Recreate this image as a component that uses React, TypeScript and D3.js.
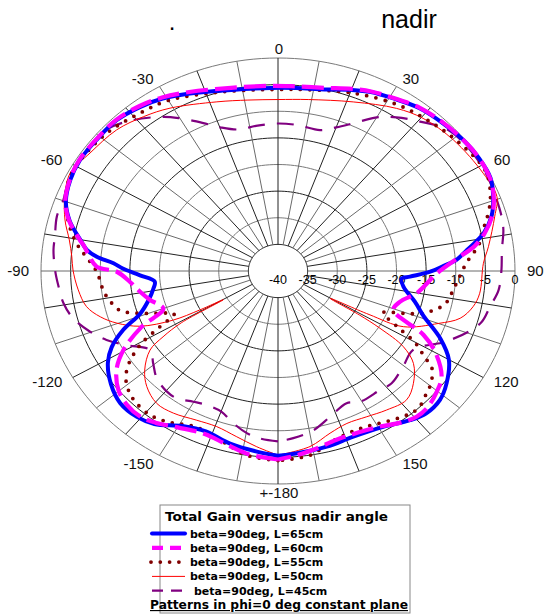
import React from "react";
import * as d3 from "d3";

// ---------- data (angle in degrees from nadir, total gain in dB) ----------
const radialTicks = [-35, -30, -25, -20, -15, -10, -5, 0];
const radialLabels = ["-40", "-35", "-30", "-25", "-20", "-15", "-10", "-5", "0"];
const angleLabelValues = [0, 30, 60, 90, 120, 150, 180, -150, -120, -90, -60, -30];
const angleLabelText = ["0", "30", "60", "90", "120", "150", "+-180", "-150", "-120", "-90", "-60", "-30"];
const spokeAngles = d3.range(-180, 180, 10);

const legendNames = [
  "beta=90deg, L=65cm",
  "beta=90deg, L=60cm",
  "beta=90deg, L=55cm",
  "beta=90deg, L=50cm",
  "beta=90deg, L=45cm",
];

const gainL65: [number, number][] = [
  [-180, -5.3], [-174, -5.9], [-166, -6.6], [-158, -7.5], [-151, -6.7], [-144, -4.5], [-139, -3.7],
  [-133, -3.6], [-127, -4.7], [-121, -6.5], [-117, -8.5], [-113, -11.6], [-109, -15.4], [-104, -17.5],
  [-99, -18.7], [-95.5, -19.1], [-92, -16.7], [-89, -13.8], [-87, -12.2], [-85, -9.3], [-83, -7.5],
  [-80, -6.1], [-75, -3.6], [-70, -1.9], [-64, -1.0], [-58, -0.6], [-51, -0.7], [-44, -0.7],
  [-37, -1.4], [-31, -2.2], [-24, -3.5], [-13, -5.1], [-2, -5.6], [5, -5.5], [13, -5.0], [20, -3.8],
  [25, -2.9], [31, -2.2], [38, -1.2], [45, -0.7], [52, -0.2], [58, 0], [64, -0.1], [69, -1.1],
  [74, -2.5], [78.5, -4.6], [83, -7.9], [86, -9.8], [88, -12], [90.3, -14.3], [92.7, -17.7],
  [94, -19.1], [98, -18.6], [104, -16.2], [109, -14.0], [115, -9.7], [120, -6.7], [126.5, -4.6],
  [131.5, -3.5], [137, -3.4], [141.5, -4.2], [149, -5.8], [158, -6.4], [166, -6.0], [175, -5.6],
  [180, -5.3],
];

const gainL60: [number, number][] = [
  [-180, -4.6], [-172, -5.2], [-165, -6.3], [-158, -7.0], [-150, -6.1], [-144, -4.8], [-139.6, -4.1],
  [-134.6, -4.2], [-129.7, -5.0], [-124.3, -7.0], [-119.6, -10], [-114.5, -14.7], [-110, -19.4],
  [-104, -17.7], [-99.5, -16.4], [-94.6, -14.9], [-90.3, -12.8], [-88.5, -9.4], [-85, -8.0],
  [-82, -7.0], [-80, -6.0], [-75, -3.5], [-70, -1.8], [-64, -0.9], [-58, -0.5], [-51, -0.6],
  [-44, -0.6], [-37, -1.2], [-31, -2.0], [-24, -3.2], [-13, -4.7], [-2, -5.2], [5, -5.2], [13, -4.7],
  [20, -3.6], [25, -2.8], [31, -2.1], [38, -1.1], [45, -0.6], [52, -0.2], [58, 0], [64, -0.2],
  [69, -1.0], [74, -2.4], [78.5, -4.4], [82, -6.5], [85, -9.2], [91, -13.2], [100, -16.2],
  [105.6, -18.6], [110.6, -19.2], [116, -12.7], [120, -9.3], [125.7, -6.0], [130.2, -4.9],
  [135.8, -4.0], [139.5, -4.0], [144, -4.8], [149.5, -6.1], [156, -6.8], [162.7, -6.8], [170, -5.9],
  [175, -5.2], [180, -4.6],
];

const gainL55: [number, number][] = [
  [-180, -4.4], [-171.3, -5.0], [-165, -6.4], [-159.4, -7.4], [-153.4, -7.5], [-147.3, -6.2],
  [-141.4, -5.4], [-135.5, -5.6], [-132.3, -6.1], [-129.3, -6.9], [-126.1, -8.4], [-123.3, -10.5],
  [-120.5, -13.3], [-117.7, -17.5], [-114.7, -20.7], [-111.2, -18.0], [-108.5, -15], [-105.7, -12.4],
  [-102.5, -11.4], [-99.5, -10.7], [-96.3, -10.2], [-90.2, -9.4], [-84.2, -7.0], [-81.3, -5.6],
  [-75.3, -3.4], [-69.1, -1.7], [-63.4, -0.7], [-57.4, -0.7], [-48.2, -1.2], [-39.2, -2.2],
  [-30, -3.0], [-18, -4.8], [-8, -5.7], [0, -5.9], [8, -5.6], [21.3, -4.2], [33.1, -2.8],
  [42.4, -2.0], [51.4, -1.1], [61.5, -0.25], [66.1, -0.9], [70.4, -2.0], [75.2, -3.7], [78, -4.8],
  [81.6, -5.7], [87.4, -8.2], [96.2, -10.1], [99.4, -10.6], [102.4, -11.1], [105.1, -12.4],
  [108.3, -14.6], [110.6, -17.4], [113.8, -20.6], [117.3, -17.5], [120.2, -13.2], [123.2, -10.4],
  [125, -8.3], [129.1, -6.7], [132.5, -6.0], [137.4, -5.0], [141.2, -5.3], [147, -6.3], [153, -7.2],
  [158.7, -7.3], [164.8, -6.6], [171, -5.0], [180, -4.4],
];

const gainL50: [number, number][] = [
  [-180, -5.4], [-173.8, -6.8], [-167.4, -8.1], [-160.5, -9.0], [-153.9, -8.8], [-146.5, -8.0],
  [-140.5, -7.8], [-134.4, -9.0], [-129.6, -10.8], [-124.5, -13.8], [-122.5, -17.0], [-120.8, -21],
  [-120.3, -29.3], [-119, -24.9], [-117.5, -20], [-114, -14.5], [-109.8, -11.1], [-106, -8.8],
  [-101.7, -7.0], [-96, -6.1], [-89.7, -5.4], [-85.6, -5.1], [-80.6, -4.3], [-75.1, -2.8],
  [-68.8, -1.4], [-62.4, -0.4], [-55.1, -1.3], [-45.8, -2.0], [-38, -3.2], [-30.8, -4.4],
  [-18, -6.6], [-9, -7.5], [0, -7.8], [9, -7.4], [21.8, -5.8], [33.2, -3.5], [40.5, -2.3],
  [50.3, -1.5], [62.1, -0.8], [69.3, -0.5], [74.3, -2.0], [82.7, -4.2], [87.6, -5.3], [97, -5.7],
  [101.5, -6.4], [106.1, -8.0], [110, -11.2], [116.3, -16.4], [118, -22.6], [120.3, -29.8],
  [121, -24], [122, -19.7], [123.9, -14.5], [127.2, -11.3], [132.7, -8.9], [138.1, -7.5],
  [144.9, -8.1], [151.3, -8.8], [157.9, -9.1], [163.9, -8.3], [170.7, -6.6], [180, -5.4],
];

const gainL45: [number, number][] = [
  [-180, -8.0], [-174.5, -8.4], [-170.2, -9.1], [-164.6, -10.6], [-160.2, -11.9], [-154.4, -12.1],
  [-149.8, -11.6], [-144.4, -10.6], [-140.4, -10.6], [-134.5, -11.3], [-129.5, -12.7],
  [-124.5, -13.8], [-118.6, -10.9], [-114.1, -8.3], [-109.8, -6.3], [-104.4, -4.3], [-99.5, -3.3],
  [-94, -2.8], [-90, -2.4], [-84, -1.9], [-80.3, -1.8], [-74.7, -1.3], [-69.8, -1.4], [-66.1, -1.0],
  [-60, -0.5], [-52, -0.5], [-47, -0.8], [-40.7, -2.6], [-33.7, -5.2], [-30, -6.9], [-24.4, -9.5],
  [-19.9, -11.3], [-14.1, -12.6], [-7.8, -12.5], [0, -12.3], [7, -12.4], [15, -12.6], [20, -11.3],
  [24.6, -9.5], [30, -6.7], [34.7, -4.9], [40.5, -3.1], [47, -1.0], [55, -0.4], [62, -0.4],
  [67, -0.6], [74.9, -0.9], [78.6, -1.2], [84, -2.0], [90, -2.3], [95.5, -2.6], [100.6, -3.6],
  [105.5, -4.3], [109.5, -5.9], [115.2, -8.8], [123, -12.8], [130.3, -12.3], [137.7, -11.5],
  [142.4, -11.8], [150.6, -11.8], [155, -12.6], [162, -11.3], [168.7, -9.5], [175.3, -8.5],
  [180, -8.0],
];

const seriesData = [gainL65, gainL60, gainL55, gainL50, gainL45];

// ---------- styles ----------
const seriesStyle = [
  { color: "#0000ff", width: 4, dash: "", cap: "round" },
  { color: "#ff00ff", width: 4.2, dash: "22 7", cap: "butt" },
  { color: "#800000", width: 3.8, dash: "0 9.5", cap: "round" },
  { color: "#ff0000", width: 1, dash: "", cap: "butt" },
  { color: "#800080", width: 2.2, dash: "17 12", cap: "butt" },
];
const legendDash = ["", "11 7", "0 9.3", "", "11 8"];

const W = 546;
const H = 616;
const CX = 278;
const CY = 271;
const RX = 237;
const RY = 213;

const rScale = d3.scaleLinear().domain([-40, 0]).range([0, 1]);
const rad = (deg: number) => (deg * Math.PI) / 180;
const px = (deg: number, g: number) => CX + rScale(g) * RX * Math.sin(rad(deg));
const py = (deg: number, g: number) => CY - rScale(g) * RY * Math.cos(rad(deg));

const ringPath = (g: number) => {
  const pts = d3.range(0, 361, 2).map((a) => [px(a, g), py(a, g)] as [number, number]);
  return d3.line()(pts) || "";
};

const curve = d3
  .line<[number, number]>()
  .x((d) => px(d[0], d[1]))
  .y((d) => py(d[0], d[1]))
  .curve(d3.curveCatmullRom.alpha(0.5));

export default function App() {
  const font = "'Liberation Sans', Arial, sans-serif";
  const legFont = "'DejaVu Sans', Verdana, sans-serif";
  return (
    <svg
      width={W}
      height={H}
      style={{ position: "absolute", left: 0, top: 0, background: "#fff" }}
      xmlns="http://www.w3.org/2000/svg"
    >
      <rect width={W} height={H} fill="#fff" />
      {/* title */}
      <text x={172} y={30} fontFamily={font} fontSize={24} textAnchor="middle">.</text>
      <text x={409} y={28} fontFamily={font} fontSize={25} textAnchor="middle">nadir</text>

      {/* grid rings */}
      {radialTicks.map((g, i) => (
        <path
          key={"ring" + g}
          d={ringPath(g)}
          fill="none"
          stroke={i % 2 === 0 ? "#222" : "#7a7a7a"}
          strokeWidth={1}
        />
      ))}
      {/* spokes */}
      {spokeAngles.map((a) => (
        <line
          key={"sp" + a}
          x1={px(a, -35)}
          y1={py(a, -35)}
          x2={px(a, 0)}
          y2={py(a, 0)}
          stroke={a % 20 === 0 ? "#222" : "#6a6a6a"}
          strokeWidth={1}
        />
      ))}

      {/* radial labels */}
      {radialLabels.map((t, i) => (
        <text
          key={"rl" + t}
          x={px(90, -40 + i * 5)}
          y={284}
          fontFamily={font}
          fontSize={12.5}
          textAnchor="middle"
        >
          {t}
        </text>
      ))}

      {/* angle labels */}
      {angleLabelValues.map((a, i) => {
        const s = Math.sin(rad(a));
        const c = Math.cos(rad(a));
        const side = Math.abs(s) < 0.01 ? 0 : s > 0 ? 1 : -1;
        const x = CX + (RX + 12) * s;
        const y = CY - (RY + 9) * c;
        return (
          <text
            key={"al" + a}
            x={side === 0 ? CX + 1 : x}
            y={y}
            dy="0.36em"
            fontFamily={font}
            fontSize={15}
            fill="#111"
            textAnchor={side === 0 ? "middle" : side > 0 ? "start" : "end"}
          >
            {angleLabelText[i]}
          </text>
        );
      })}

      {/* series, drawn back to front */}
      {[4, 3, 2, 0, 1].map((k) => {
        const st = seriesStyle[k];
        return (
          <path
            key={"s" + k}
            d={curve(seriesData[k]) || ""}
            fill="none"
            stroke={st.color}
            strokeWidth={st.width}
            strokeDasharray={st.dash || undefined}
            strokeLinecap={st.cap as any}
            strokeLinejoin="round"
          />
        );
      })}

      {/* legend */}
      <g>
        <rect x={160} y={505} width={250} height={108} fill="#fff" stroke="#888" strokeWidth={1} />
        <text
          x={165}
          y={521}
          fontFamily={legFont}
          fontWeight="bold"
          fontSize={13}
          textLength={223}
          lengthAdjust="spacingAndGlyphs"
        >
          Total Gain versus nadir angle
        </text>
        {legendNames.map((n, i) => {
          const y = 533.5 + i * 14.3;
          const st = seriesStyle[i];
          return (
            <g key={"lg" + i}>
              <line
                x1={i === 2 ? 151 : 152}
                x2={185}
                y1={y}
                y2={y}
                stroke={st.color}
                strokeWidth={i === 4 ? 2.2 : st.width}
                strokeDasharray={legendDash[i] || undefined}
                strokeLinecap={st.cap as any}
              />
              <text
                x={i === 4 ? 194 : 190}
                y={y + 4}
                fontFamily={legFont}
                fontWeight="bold"
                fontSize={11}
              >
                {n}
              </text>
            </g>
          );
        })}
        <text
          x={150}
          y={609}
          fontFamily={legFont}
          fontWeight="bold"
          fontSize={11.5}
          textLength={258}
          lengthAdjust="spacingAndGlyphs"
          textDecoration="underline"
        >
          Patterns in phi=0 deg constant plane
        </text>
      </g>
    </svg>
  );
}
